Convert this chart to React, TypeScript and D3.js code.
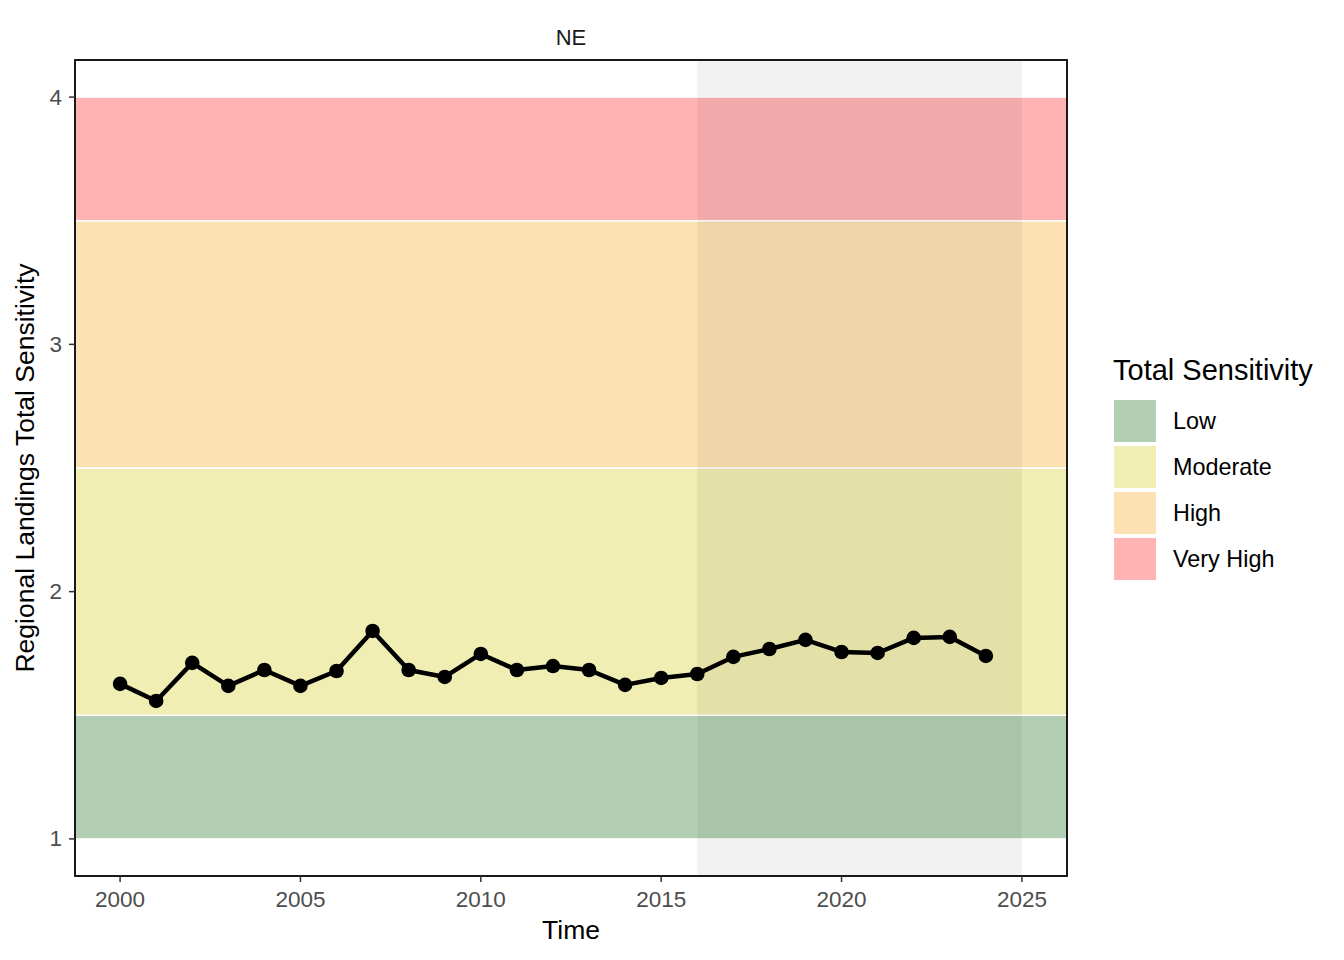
import { useEffect, useRef } from 'react';
import * as d3 from 'd3';

const years = [2000, 2001, 2002, 2003, 2004, 2005, 2006, 2007, 2008, 2009, 2010, 2011, 2012,
  2013, 2014, 2015, 2016, 2017, 2018, 2019, 2020, 2021, 2022, 2023, 2024];
const sensitivity = [1.627, 1.558, 1.712, 1.619, 1.683, 1.619, 1.679, 1.841, 1.683, 1.655, 1.748,
  1.683, 1.699, 1.683, 1.623, 1.651, 1.667, 1.736, 1.768, 1.805, 1.756, 1.752, 1.813, 1.817, 1.740];

const bandNames = ['Low', 'Moderate', 'High', 'Very High'];
const bandLow = [1, 1.5, 2.5, 3.5];
const bandHigh = [1.5, 2.5, 3.5, 4];
const bandColors = ['#b3cfb3', '#f0eeb2', '#fce2b2', '#ffb3b3'];

const shadeStart = 2016;
const shadeEnd = 2025;

const xTicks = [2000, 2005, 2010, 2015, 2020, 2025];
const yTicks = [1, 2, 3, 4];

export default function App() {
  const svgRef = useRef<SVGSVGElement>(null);

  useEffect(() => {
    if (!svgRef.current) return;
    const svg = d3.select(svgRef.current);
    svg.selectAll('*').remove();

    const left = 75, right = 1067, top = 60, bottom = 876;
    const font = 'Liberation Sans, Arial, sans-serif';

    // ggplot-like 5% expansion
    const x = d3.scaleLinear().domain([1998.75, 2026.25]).range([left, right]);
    const y = d3.scaleLinear().domain([0.85, 4.15]).range([bottom, top]);

    svg.append('rect').attr('width', 1344).attr('height', 960).attr('fill', 'white');

    const g = svg.append('g');

    // sensitivity bands
    bandNames.forEach((_, i) => {
      g.append('rect')
        .attr('x', left)
        .attr('width', right - left)
        .attr('y', y(bandHigh[i]))
        .attr('height', y(bandLow[i]) - y(bandHigh[i]))
        .attr('fill', bandColors[i])
        .attr('stroke', 'white')
        .attr('stroke-width', 1.5);
    });

    // shaded recent period
    g.append('rect')
      .attr('x', x(shadeStart))
      .attr('width', x(shadeEnd) - x(shadeStart))
      .attr('y', top)
      .attr('height', bottom - top)
      .attr('fill', 'black')
      .attr('opacity', 0.05);

    // line + points
    const line = d3.line<number>()
      .x((_, i) => x(years[i]))
      .y(d => y(d));

    g.append('path')
      .datum(sensitivity)
      .attr('d', line)
      .attr('fill', 'none')
      .attr('stroke', 'black')
      .attr('stroke-width', 4.5)
      .attr('stroke-linejoin', 'round');

    g.selectAll('circle.pt')
      .data(sensitivity)
      .enter()
      .append('circle')
      .attr('cx', (_, i) => x(years[i]))
      .attr('cy', d => y(d))
      .attr('r', 7.3)
      .attr('fill', 'black');

    // panel border
    svg.append('rect')
      .attr('x', left)
      .attr('y', top)
      .attr('width', right - left)
      .attr('height', bottom - top)
      .attr('fill', 'none')
      .attr('stroke', 'black')
      .attr('stroke-width', 1.8);

    // axes
    xTicks.forEach(t => {
      svg.append('line')
        .attr('x1', x(t)).attr('x2', x(t))
        .attr('y1', bottom).attr('y2', bottom + 6)
        .attr('stroke', '#333').attr('stroke-width', 1.5);
      svg.append('text')
        .attr('x', x(t)).attr('y', bottom + 31)
        .attr('text-anchor', 'middle')
        .attr('font-family', font).attr('font-size', 22.5)
        .attr('fill', '#4d4d4d')
        .text(t);
    });

    yTicks.forEach(t => {
      svg.append('line')
        .attr('x1', left - 6).attr('x2', left)
        .attr('y1', y(t)).attr('y2', y(t))
        .attr('stroke', '#333').attr('stroke-width', 1.5);
      svg.append('text')
        .attr('x', left - 13).attr('y', y(t))
        .attr('text-anchor', 'end')
        .attr('dominant-baseline', 'central')
        .attr('font-family', font).attr('font-size', 22.5)
        .attr('fill', '#4d4d4d')
        .text(t);
    });

    // titles
    svg.append('text')
      .attr('x', (left + right) / 2).attr('y', 939)
      .attr('text-anchor', 'middle')
      .attr('font-family', font).attr('font-size', 26.5)
      .text('Time');

    svg.append('text')
      .attr('transform', `translate(34, ${(top + bottom) / 2}) rotate(-90)`)
      .attr('text-anchor', 'middle')
      .attr('font-family', font).attr('font-size', 26.5)
      .text('Regional Landings Total Sensitivity');

    svg.append('text')
      .attr('x', (left + right) / 2).attr('y', 45)
      .attr('text-anchor', 'middle')
      .attr('font-family', font).attr('font-size', 22)
      .attr('fill', '#1a1a1a')
      .text('NE');

    // legend
    const lg = svg.append('g').attr('transform', 'translate(1113, 0)');
    lg.append('text')
      .attr('x', 0).attr('y', 380)
      .attr('font-family', font).attr('font-size', 29)
      .text('Total Sensitivity');

    bandNames.forEach((name, i) => {
      const ky = 400 + i * 46;
      lg.append('rect')
        .attr('x', 1).attr('y', ky)
        .attr('width', 42).attr('height', 42)
        .attr('fill', bandColors[i]);
      lg.append('text')
        .attr('x', 60).attr('y', ky + 21)
        .attr('dominant-baseline', 'central')
        .attr('font-family', font).attr('font-size', 23.4)
        .text(name);
    });
  }, []);

  return (
    <svg ref={svgRef} width={1344} height={960} style={{ display: 'block', margin: -8 }} />
  );
}
